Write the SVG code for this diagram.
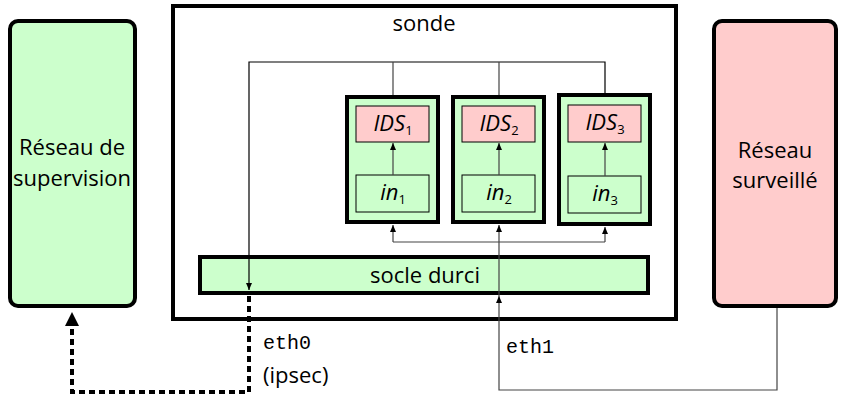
<svg xmlns="http://www.w3.org/2000/svg" width="841" height="397" viewBox="0 0 841 397">
<style>
text{font-family:"Open Sans","Liberation Sans",sans-serif;fill:#000}
.big{font-size:22px}
.it{font-style:italic;font-size:22px}
.sub{font-size:13px;font-style:normal}
.mono{font-family:"Liberation Mono","DejaVu Sans Mono",monospace;font-size:20px}
.thick{stroke:#000;stroke-width:4}
.thin{stroke:#000;stroke-width:1}
.green{fill:#ccffcc}
.pink{fill:#ffcccc}
.conn{fill:none;stroke:#444;stroke-width:1.2}
</style>
<defs>
<marker id="ah" markerWidth="7" markerHeight="6" refX="7" refY="3" orient="auto" markerUnits="userSpaceOnUse">
<path d="M0,0 L7,3 L0,6 z" fill="#000"/>
</marker>
</defs>
<g id="supervision">
<rect x="10" y="21" width="125" height="285" rx="8" class="thick green"/>
<text x="72" y="155" text-anchor="middle" class="big">Réseau de</text>
<text x="72" y="186" text-anchor="middle" class="big">supervision</text>
</g>
<g id="surveille">
<rect x="714" y="21" width="122" height="285" rx="8" class="thick pink"/>
<text x="775" y="158" text-anchor="middle" class="big">Réseau</text>
<text x="775" y="188" text-anchor="middle" class="big">surveillé</text>
</g>
<g id="sonde">
<rect x="173" y="6" width="503" height="313" fill="#fff" class="thick"/>
<text x="424" y="31" text-anchor="middle" class="big">sonde</text>
</g>
<g id="socle">
<rect x="200" y="257" width="448" height="36" class="thick green"/>
<text x="425" y="283" text-anchor="middle" class="big">socle durci</text>
</g>
<g id="ids1">
<rect x="347" y="97" width="91" height="125" class="thick green"/>
<rect x="356" y="106" width="73" height="36" class="thin pink"/>
<text x="393" y="131" text-anchor="middle" class="it">IDS<tspan class="sub" dy="4">1</tspan></text>
<rect x="356" y="175" width="73" height="37" class="thin green"/>
<text x="393" y="200" text-anchor="middle" class="it">in<tspan class="sub" dy="4">1</tspan></text>
</g>
<g id="ids2">
<rect x="453" y="97" width="91" height="125" class="thick green"/>
<rect x="462" y="106" width="73" height="36" class="thin pink"/>
<text x="499" y="131" text-anchor="middle" class="it">IDS<tspan class="sub" dy="4">2</tspan></text>
<rect x="462" y="175" width="73" height="37" class="thin green"/>
<text x="499" y="200" text-anchor="middle" class="it">in<tspan class="sub" dy="4">2</tspan></text>
</g>
<g id="ids3">
<rect x="559" y="95" width="91" height="129" class="thick green"/>
<rect x="568" y="105" width="73" height="37" class="thin pink"/>
<text x="605" y="130" text-anchor="middle" class="it">IDS<tspan class="sub" dy="4">3</tspan></text>
<rect x="568" y="176" width="73" height="37" class="thin green"/>
<text x="605" y="201" text-anchor="middle" class="it">in<tspan class="sub" dy="4">3</tspan></text>
</g>
<g id="connectors">
<path class="conn" d="M605,93 V62 H249 V290" marker-end="url(#ah)" style="stroke:#000"/>
<path class="conn" d="M393,62 V95"/>
<path class="conn" d="M499,62 V95"/>
<path class="conn" d="M393,175 V143" marker-end="url(#ah)"/>
<path class="conn" d="M499,175 V143" marker-end="url(#ah)"/>
<path class="conn" d="M605,176 V143" marker-end="url(#ah)"/>
<path class="conn" d="M393,242 H605"/>
<path class="conn" d="M393,242 V225" marker-end="url(#ah)"/>
<path class="conn" d="M605,242 V227" marker-end="url(#ah)"/>
<path class="conn" d="M777,308 V390 H499 V296" marker-end="url(#ah)"/>
<path class="conn" d="M499,296 V225" marker-end="url(#ah)"/>
<path d="M249,296 V392 H72 V326" fill="none" stroke="#000" stroke-width="4" stroke-dasharray="6 4"/>
<polygon points="72,312 65,326 79,326" fill="#000"/>
</g>
<text x="263" y="349" class="mono">eth0</text>
<text x="263" y="383" class="big">(ipsec)</text>
<text x="506" y="353" class="mono">eth1</text>
</svg>
